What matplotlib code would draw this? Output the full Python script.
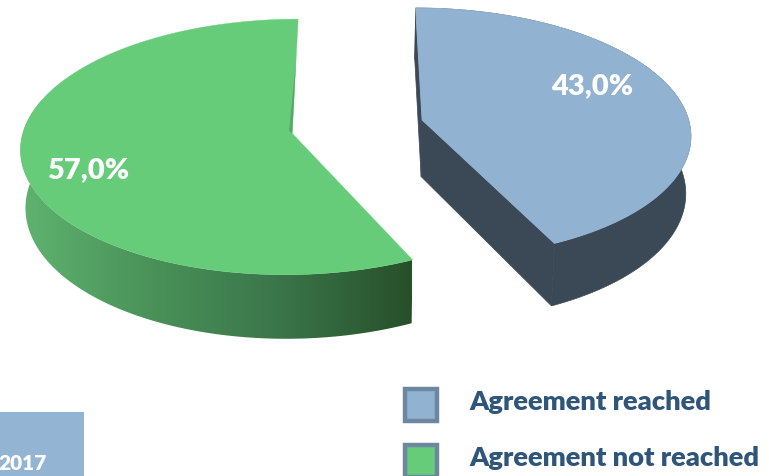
import numpy as np
import matplotlib
matplotlib.use('Agg')
import matplotlib.pyplot as plt
from matplotlib.colors import LinearSegmentedColormap
from matplotlib.patches import Polygon, Rectangle

# values
labels = ['Agreement reached', 'Agreement not reached']
shares = [43.0, 57.0]
value_labels = ['43,0%', '57,0%']
year_label = '2017'

top_colors = ['#92b2d1', '#66cc7a']
blue_wall = '#3b4856'
wall_cmap = LinearSegmentedColormap.from_list('wall', ['#5fb470', '#4a9259', '#3a7549', '#275029'])

# fake 3d camera, pixels of the picture
xc, yc = 354, 127
rx, ry = 268, 125
persp = 0.105
depth = 57
shrink = 0.015
explode = [0.262, 0.235]

plt.rcParams['font.family'] = ['Lato', 'DejaVu Sans']

def project(x, y, z=0.0):
    w = 1 / (1 + persp * y)
    s = 1 - shrink * z
    return np.column_stack([xc + rx * x * w * s, yc - ry * y * w + depth * z * w])

def slice_xy(a0, a1, e):
    # angles clockwise from the top, in degrees
    mid = np.radians((a0 + a1) / 2)
    ox, oy = e * np.sin(mid), e * np.cos(mid)
    t = np.radians(np.linspace(a0, a1, 200))
    return ox, oy, ox + np.sin(t), oy + np.cos(t)

fig = plt.figure(figsize=(7.69, 4.76), dpi=100)
ax = fig.add_axes([0, 0, 1, 1])

a_split = 360 * shares[0] / sum(shares)

# green slice
ox, oy, x, y = slice_xy(a_split, 360, explode[1])
rim_top = project(x, y)
rim_bot = project(x, y, 1)
wall = Polygon(np.vstack([rim_top, rim_bot[::-1]]), closed=True, fc='none', ec='none', zorder=1)
ax.add_patch(wall)
grad = np.linspace(0, 1, 256).reshape(1, -1)
im = ax.imshow(grad, cmap=wall_cmap, extent=[18, 412, 340, 100], aspect='auto', zorder=1)
im.set_clip_path(wall)
ax.set_xlim(0, 769)
ax.set_ylim(476, 0)
ax.axis('off')
apex = project(np.array([ox]), np.array([oy]))
ax.add_patch(Polygon(np.vstack([apex, rim_top]), closed=True, fc=top_colors[1], ec=top_colors[1], lw=0.3, zorder=2))
# darker strip along the back edge
edge = project(np.array([ox, ox + 0.0, ox - 0.012]), np.array([oy, oy + 0.62, oy + 0.02]))
ax.add_patch(Polygon(edge, closed=True, fc='#56a866', ec='none', zorder=3))

# blue slice
ox, oy, x, y = slice_xy(0, a_split, explode[0])
rim_top = project(x, y)
rim_bot = project(x, y, 1)
apex = project(np.array([ox]), np.array([oy]))
apex_bot = project(np.array([ox]), np.array([oy]), 1)
ax.add_patch(Polygon(np.vstack([rim_top, rim_bot[::-1]]), closed=True, fc=blue_wall, ec=blue_wall, lw=0.5, zorder=1))
for i in [0, -1]:
    ax.add_patch(Polygon(np.vstack([apex, rim_top[i], rim_bot[i], apex_bot]), closed=True,
                         fc=blue_wall, ec=blue_wall, lw=0.5, zorder=1))
ax.add_patch(Polygon(np.vstack([apex, rim_top]), closed=True, fc=top_colors[0], ec=top_colors[0], lw=0.7, zorder=2))

ax.text(592, 86, value_labels[0], color='white', fontsize=21, fontweight='heavy', ha='center', va='center', zorder=5)
ax.text(88, 170, value_labels[1], color='white', fontsize=21, fontweight='heavy', ha='center', va='center', zorder=5)

# legend
for ly, lab, col in zip([389, 445], labels, top_colors):
    ax.add_patch(Rectangle((405, ly), 32, 32, fc=col, ec='#6d87a1', lw=3.2, zorder=4))
    ax.text(469, ly + 13, lab, color='#2f5579', fontsize=19.6, fontweight='heavy', ha='left', va='center')

# year box, cut by the edge of the picture
ax.add_patch(Rectangle((0, 412), 84, 64, fc='#94b4d3', ec='none', zorder=4))
ax.text(23, 463, year_label, color='white', fontsize=15, fontweight='heavy', ha='center', va='center', zorder=5)

fig.savefig('out.png', dpi=100)
